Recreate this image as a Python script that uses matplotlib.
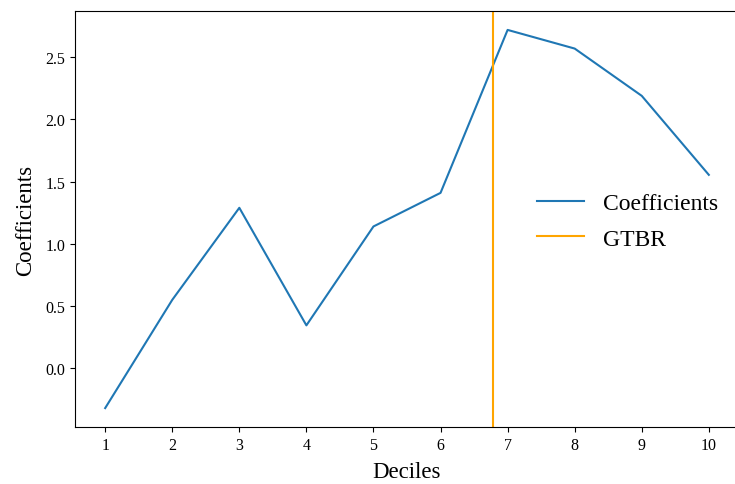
import matplotlib.pyplot as plt

deciles = [1, 2, 3, 4, 5, 6, 7, 8, 9, 10]
coefficients = [-0.32, 0.55, 1.29, 0.345, 1.14, 1.41, 2.72, 2.57, 2.19, 1.555]
gtbr = 6.78

plt.rcParams['font.family'] = ['Liberation Serif', 'DejaVu Serif']

fig = plt.figure(figsize=(7.35, 4.85), dpi=100)
ax = fig.add_axes([75 / 735, 57 / 485, 664 / 735, 416 / 485])

ax.plot(deciles, coefficients, color='#1f77b4', label='Coefficients')
ax.axvline(gtbr, color='orange', label='GTBR')

ax.set_xticks(deciles)
ax.set_xlabel('Deciles', fontsize=16.5, labelpad=6)
ax.set_ylabel('Coefficients', fontsize=16.5, labelpad=7)
ax.tick_params(labelsize=11.5)
ax.legend(frameon=False, fontsize=17, labelspacing=0.6,
          loc='center right', bbox_to_anchor=(1.0, 0.495))

fig.savefig('out.png', dpi=100)
